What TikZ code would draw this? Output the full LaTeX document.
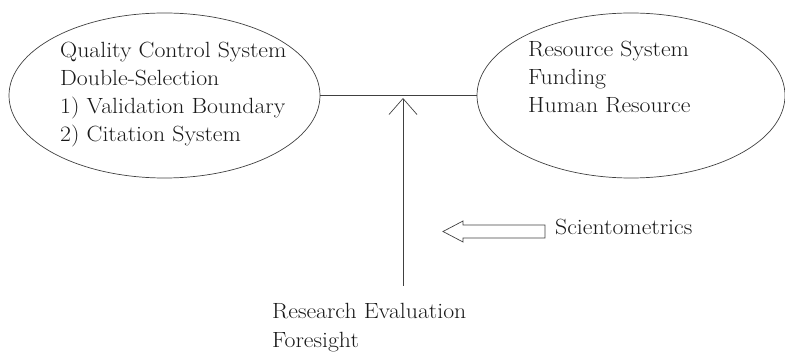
\documentclass[tikz,border=0pt]{standalone}
\usepackage{fontspec}
\setmainfont{Latin Modern Roman}[FakeStretch=1.08]
\usetikzlibrary{arrows.meta,shapes.geometric}
\begin{document}
\begin{tikzpicture}[x=1pt,y=-1pt,
  ln/.style={draw=black!75,line width=0.7pt},
  oval/.style={ellipse,ln,inner sep=0pt,minimum width=311pt,minimum height=165pt},
  label/.style={inner sep=0pt,align=left,font=\fontsize{22}{28}\selectfont,text=black!90}]
\useasboundingbox (0,0) rectangle (785,358);
% ellipses
\node[oval] (qcs) at (164.5,95.5) {};
\node[oval,minimum width=308pt] (rs) at (631,95.5) {};
% texts
\node[label,anchor=north west] (qcstext) at (60,41.7)
  {Quality Control System\\Double-Selection\\1) Validation Boundary\\2) Citation System};
\node[label,anchor=north west] (rstext) at (528,40.5)
  {Resource System\\Funding\\Human Resource};
\node[label,anchor=north west,font=\fontsize{22}{29}\selectfont] (retext) at (272,302.7)
  {Research Evaluation\\Foresight};
\node[label,anchor=base west] (sci) at (555,235) {Scientometrics};
% connectors
\draw[ln] (qcs.east) -- (rs.west);
\coordinate (tip) at (403,98);
\coordinate (foot) at (403,286);
\draw[ln,-{Straight Barb[length=16pt,width=28pt]}] (foot) -- (tip);
% block arrow
\draw[ln,line join=miter] (545,225) -- (463,225) -- (463,221) -- (443,231.5)
  -- (463,242) -- (463,238) -- (545,238) -- cycle;
\end{tikzpicture}
\end{document}
